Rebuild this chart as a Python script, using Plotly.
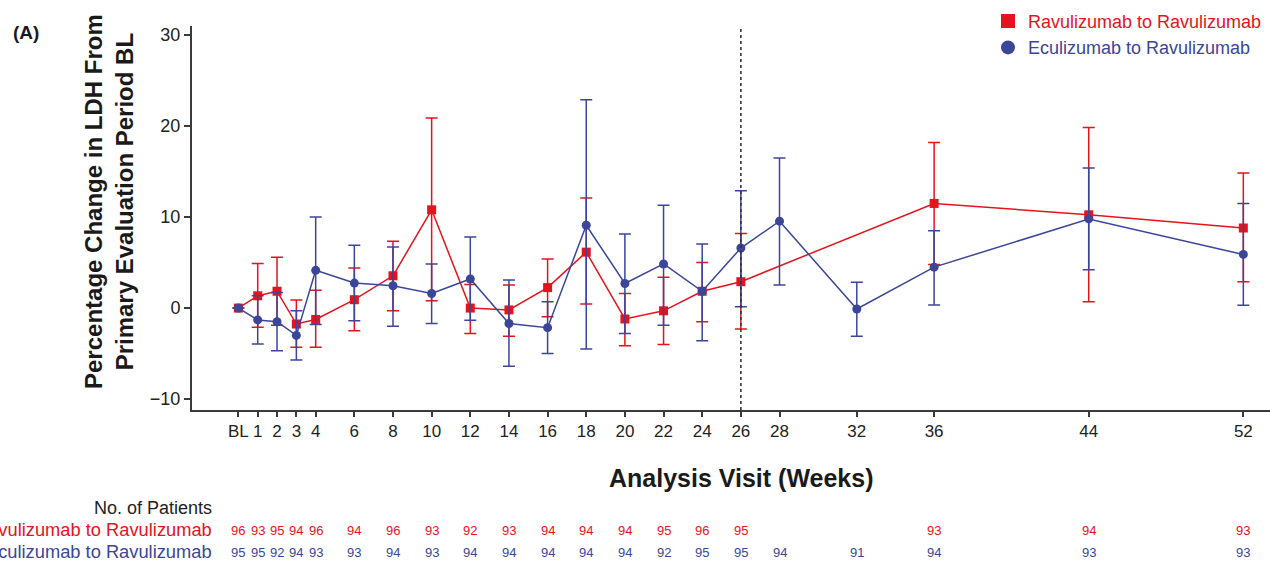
import numpy as np
import plotly.graph_objects as go

# ---------------- data ----------------
tick_weeks = [0, 1, 2, 3, 4, 6, 8, 10, 12, 14, 16, 18, 20, 22, 24, 26, 28, 32, 36, 44, 52]
tick_labels = ["BL", "1", "2", "3", "4", "6", "8", "10", "12", "14", "16", "18", "20",
               "22", "24", "26", "28", "32", "36", "44", "52"]

rav_weeks = [0, 1, 2, 3, 4, 6, 8, 10, 12, 14, 16, 18, 20, 22, 24, 26, 36, 44, 52]
rav_mean = [0, 1.35, 1.85, -1.75, -1.25, 0.92, 3.55, 10.8, 0.0, -0.2, 2.25, 6.15, -1.2, -0.3, 1.85, 2.9, 11.5, 10.25, 8.8]
rav_upper = [0, 4.9, 5.6, 0.9, 1.95, 4.4, 7.35, 20.9, 2.6, 2.55, 5.4, 12.1, 1.6, 3.4, 5.0, 8.2, 18.2, 19.85, 14.85]
rav_lower = [0, -2.1, -1.9, -4.3, -4.3, -2.5, -0.3, 0.8, -2.8, -3.1, -0.95, 0.45, -4.15, -4.0, -1.5, -2.3, 4.8, 0.7, 2.9]
rav_n = [96, 93, 95, 94, 96, 94, 96, 93, 92, 93, 94, 94, 94, 95, 96, 95, 93, 94, 93]

ecu_weeks = [0, 1, 2, 3, 4, 6, 8, 10, 12, 14, 16, 18, 20, 22, 24, 26, 28, 32, 36, 44, 52]
ecu_mean = [0, -1.3, -1.5, -3.0, 4.15, 2.75, 2.45, 1.6, 3.2, -1.7, -2.15, 9.1, 2.7, 4.85, 1.85, 6.6, 9.55, -0.1, 4.5, 9.8, 5.9]
ecu_upper = [0, 1.35, 1.7, -0.3, 10.0, 6.9, 6.7, 4.85, 7.8, 3.1, 0.7, 22.9, 8.15, 11.3, 7.05, 12.9, 16.5, 2.85, 8.5, 15.4, 11.5]
ecu_lower = [0, -3.95, -4.7, -5.7, -1.8, -1.4, -2.0, -1.7, -1.35, -6.4, -5.0, -4.5, -2.8, -1.9, -3.6, 0.15, 2.55, -3.1, 0.35, 4.2, 0.3]
ecu_n = [95, 95, 92, 94, 93, 93, 94, 93, 94, 94, 94, 94, 94, 92, 95, 95, 94, 91, 94, 93, 93]

RED = "#e5131b"
BLUE = "#3b4699"
AXC = "#3a3a3a"
FONT = "Liberation Sans, Arial, Helvetica, sans-serif"

# plot-area geometry (px)
L, R, T, B = 192, 0, 26, 151
W, H = 1270, 561
PW, PH = W - L - R, H - T - B


def px_x(px):
    return (px - L) / PW


def px_y(py):
    return (H - B - py) / PH


fig = go.Figure()


def add_series(weeks, mean, upper, lower, color, symbol, size):
    m = np.array(mean, float)
    up = np.array(upper, float) - m
    lo = m - np.array(lower, float)
    fig.add_trace(go.Scatter(
        x=weeks, y=mean, mode="lines+markers", showlegend=False,
        line=dict(color=color, width=1.5),
        marker=dict(color=color, symbol=symbol, size=size),
        error_y=dict(type="data", symmetric=False, array=up.tolist(), arrayminus=lo.tolist(),
                     color=color, thickness=1.5, width=6),
        cliponaxis=False,
    ))


add_series(rav_weeks, rav_mean, rav_upper, rav_lower, RED, "square", 9)
add_series(ecu_weeks, ecu_mean, ecu_upper, ecu_lower, BLUE, "circle", 9)

# legend-only entries
fig.add_trace(go.Scatter(x=[None], y=[None], mode="markers", name=f'<span style="color:{RED}">Ravulizumab to Ravulizumab</span>',
                         marker=dict(color=RED, symbol="square", size=14)))
fig.add_trace(go.Scatter(x=[None], y=[None], mode="markers", name=f'<span style="color:{BLUE}">Eculizumab to Ravulizumab</span>',
                         marker=dict(color=BLUE, symbol="circle", size=14)))

# dashed reference line at week 26
fig.add_vline(x=26, line=dict(color="#333333", width=1.6, dash="3px,3px"))

annotations = []
# y-axis title
annotations.append(dict(
    text="<b>Percentage Change in LDH From<br>Primary Evaluation Period BL</b>",
    xref="paper", yref="paper", x=px_x(109), y=px_y(202), textangle=-90,
    xanchor="center", yanchor="middle", showarrow=False,
    font=dict(size=24, color="#1a1a1a", family=FONT)))
# x-axis title
annotations.append(dict(
    text="<b>Analysis Visit (Weeks)</b>", xref="paper", yref="paper",
    x=px_x(741), y=px_y(478), xanchor="center", yanchor="middle", showarrow=False,
    font=dict(size=25, color="#1a1a1a", family=FONT)))
# panel label
annotations.append(dict(
    text="<b>(A)</b>", xref="paper", yref="paper", x=px_x(26), y=px_y(33),
    xanchor="center", yanchor="middle", showarrow=False,
    font=dict(size=19, color="#1a1a1a", family=FONT)))
# table
annotations.append(dict(
    text="No. of Patients", xref="paper", yref="paper", x=px_x(214), y=px_y(508),
    xanchor="right", yanchor="middle", showarrow=False,
    font=dict(size=18, color="#222222", family=FONT)))
annotations.append(dict(
    text="Ravulizumab to Ravulizumab", xref="paper", yref="paper", x=px_x(213.5), y=px_y(529),
    xanchor="right", yanchor="middle", showarrow=False,
    font=dict(size=18.3, color=RED, family=FONT)))
annotations.append(dict(
    text="Eculizumab to Ravulizumab", xref="paper", yref="paper", x=px_x(213.5), y=px_y(551),
    xanchor="right", yanchor="middle", showarrow=False,
    font=dict(size=18.3, color=BLUE, family=FONT)))
for wk, n in zip(rav_weeks, rav_n):
    annotations.append(dict(text=str(n), xref="x", yref="paper", x=wk, y=px_y(530),
                            xanchor="center", yanchor="middle", showarrow=False,
                            font=dict(size=13, color=RED, family=FONT)))
for wk, n in zip(ecu_weeks, ecu_n):
    annotations.append(dict(text=str(n), xref="x", yref="paper", x=wk, y=px_y(552),
                            xanchor="center", yanchor="middle", showarrow=False,
                            font=dict(size=13, color=BLUE, family=FONT)))

fig.update_layout(
    width=W, height=H,
    margin=dict(l=L, r=R, t=T, b=B, pad=0, autoexpand=False),
    paper_bgcolor="white", plot_bgcolor="white",
    font=dict(family=FONT, color="#222222"),
    showlegend=True,
    legend=dict(x=px_x(988), xanchor="left", y=0.995, yref="container", yanchor="top",
                font=dict(size=18, family=FONT), bgcolor="rgba(0,0,0,0)",
                tracegroupgap=0, itemclick=False),
    annotations=annotations,
    xaxis=dict(range=[-2.4, 53.38], tickmode="array", tickvals=tick_weeks, ticktext=tick_labels,
               ticks="outside", ticklen=5, tickwidth=1.5, tickcolor=AXC,
               showline=True, linecolor=AXC, linewidth=2, showgrid=False, zeroline=False,
               tickfont=dict(size=17, color="#222222", family=FONT)),
    yaxis=dict(range=[-11.2, 31.0], tickmode="array", tickvals=[-10, 0, 10, 20, 30],
               ticks="outside", ticklen=6, tickwidth=1.5, tickcolor=AXC,
               showline=True, linecolor=AXC, linewidth=2, showgrid=False, zeroline=False,
               tickfont=dict(size=18, color="#222222", family=FONT)),
)

fig.write_html("out.html")
